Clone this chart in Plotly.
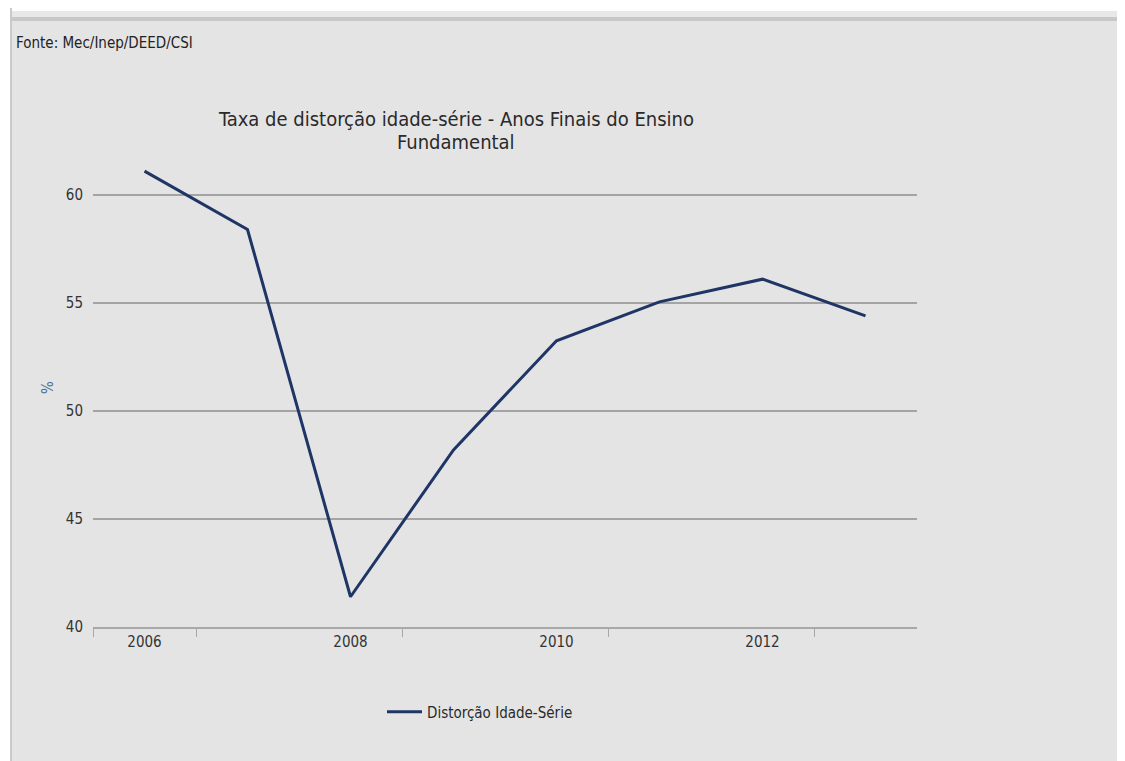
import plotly.graph_objects as go

# ---- data ----
years = [2006, 2007, 2008, 2009, 2010, 2011, 2012, 2013]
distorcao = [61.1, 58.4, 41.4, 48.2, 53.25, 55.05, 56.1, 54.4]
series_name = "Distorção Idade-Série"
x_tick_vals = [2006, 2008, 2010, 2012]
x_tick_text = ["2006", "2008", "2010", "2012"]
y_tick_vals = [40, 45, 50, 55, 60]
title_line1 = "Taxa de distorção idade-série - Anos Finais do Ensino"
title_line2 = "Fundamental"
source_text = "Fonte: Mec/Inep/DEED/CSI"
y_title = "%"

# ---- geometry (screen pixels; page body adds an 8px offset) ----
OFF = 8
SCREEN_W, SCREEN_H = 1125, 761
WIDTH, HEIGHT = SCREEN_W - OFF, SCREEN_H - OFF
L, R_PX, T_PX, B_PX = 93, 917, 169, 627          # plot area on screen
PW, PH = R_PX - L, B_PX - T_PX


def px(x):
    return (x - L) / PW


def py(y):
    return (B_PX - y) / PH


FONT = "DejaVu Sans Condensed, sans-serif"
BG = "#e4e4e4"

fig = go.Figure()
fig.add_trace(go.Scatter(
    x=years, y=distorcao, mode="lines", name=series_name,
    line=dict(color="#1f3566", width=3),
    showlegend=True,
))

shapes = [
    dict(type="rect", xref="paper", yref="paper", x0=px(0), x1=px(SCREEN_W), y0=py(0), y1=py(11),
         fillcolor="#ffffff", line=dict(width=0), layer="below"),
    dict(type="rect", xref="paper", yref="paper", x0=px(10), x1=px(SCREEN_W), y0=py(11), y1=py(17),
         fillcolor="#e8e8e8", line=dict(width=0), layer="below"),
    dict(type="rect", xref="paper", yref="paper", x0=px(10), x1=px(SCREEN_W), y0=py(17), y1=py(21),
         fillcolor="#c8c8c8", line=dict(width=0), layer="below"),
    dict(type="rect", xref="paper", yref="paper", x0=px(0), x1=px(10), y0=py(0), y1=py(SCREEN_H),
         fillcolor="#ffffff", line=dict(width=0), layer="below"),
    dict(type="rect", xref="paper", yref="paper", x0=px(10), x1=px(12), y0=py(0), y1=py(SCREEN_H),
         fillcolor="#cacaca", line=dict(width=0), layer="below"),
]

annotations = [
    dict(text=source_text, xref="paper", yref="paper", x=px(14), y=py(43),
         xanchor="left", yanchor="middle", showarrow=False,
         font=dict(family=FONT, size=15, color="#222222")),
    dict(text=title_line1, xref="paper", yref="paper", x=px(456), y=py(119),
         xanchor="center", yanchor="middle", showarrow=False,
         font=dict(family=FONT, size=20, color="#2a2a2a")),
    dict(text=title_line2, xref="paper", yref="paper", x=px(456), y=py(142),
         xanchor="center", yanchor="middle", showarrow=False,
         font=dict(family=FONT, size=20, color="#2a2a2a")),
    dict(text=y_title, xref="paper", yref="paper", x=px(48), y=py(388),
         xanchor="center", yanchor="middle", showarrow=False, textangle=-90,
         font=dict(family=FONT, size=15, color="#4a6a9a")),
]

fig.update_layout(
    width=WIDTH, height=HEIGHT,
    margin=dict(l=L - OFF, r=WIDTH - (R_PX - OFF), t=T_PX - OFF, b=HEIGHT - (B_PX - OFF), pad=0),
    paper_bgcolor=BG, plot_bgcolor=BG,
    font=dict(family=FONT, size=15, color="#333333"),
    shapes=shapes,
    annotations=annotations,
    showlegend=True,
    legend=dict(
        orientation="h", x=px(382), y=py(712), xanchor="left", yanchor="middle",
        itemwidth=35,
        bgcolor="rgba(0,0,0,0)", font=dict(family=FONT, size=15, color="#2a2a2a"),
    ),
    xaxis=dict(
        range=[2005.5, 2013.5], tickmode="array", tickvals=x_tick_vals, ticktext=x_tick_text,
        ticks="", showgrid=False, zeroline=False,
        showline=True, linecolor="#a8a8a8", linewidth=2,
        tickfont=dict(family=FONT, size=15, color="#333333"),
        minor=dict(tickmode="array", tickvals=[2005.5, 2006.5, 2008.5, 2010.5, 2012.5],
                   ticks="outside", ticklen=8, tickcolor="#a8a8a8", tickwidth=1, showgrid=False),
        fixedrange=True,
    ),
    yaxis=dict(
        range=[40, 61.2], tickmode="array", tickvals=y_tick_vals,
        showgrid=True, gridcolor="#a4a4a4", gridwidth=1.5,
        zeroline=False, showline=False, ticks="",
        ticklabelstandoff=9,
        tickfont=dict(family=FONT, size=15, color="#333333"),
        fixedrange=True,
    ),
)

fig.write_html("out.html")
